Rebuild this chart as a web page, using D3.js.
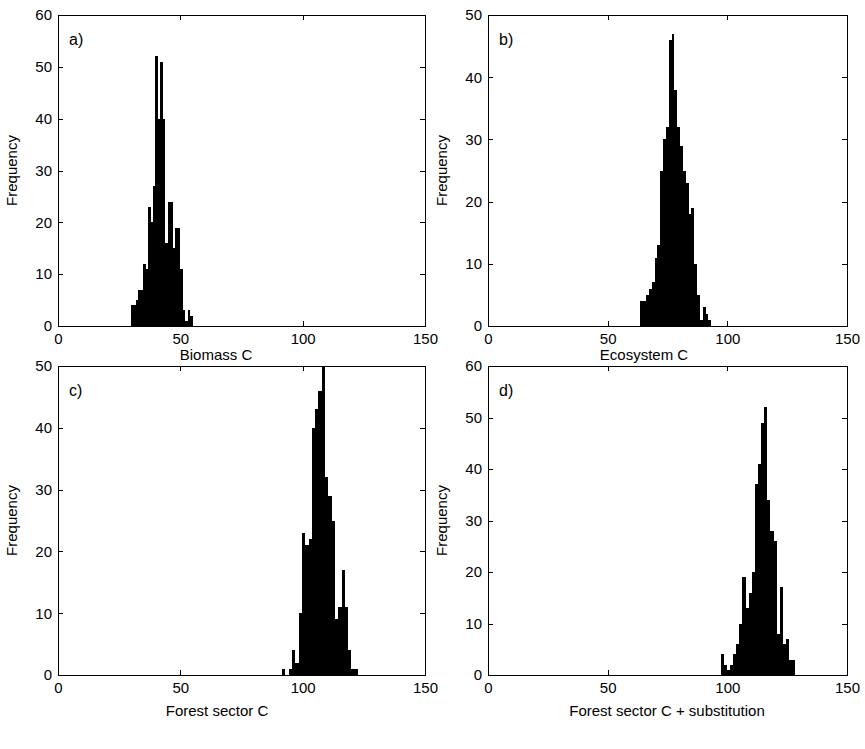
<!DOCTYPE html>
<html><head><meta charset="utf-8">
<script src="https://cdn.jsdelivr.net/npm/d3@7"></script>
<style>
body{margin:0;background:#fff}
text{font-family:"Liberation Sans",Arial,Helvetica,sans-serif;fill:#000}
</style>
</head><body>
<svg id="chart" width="865" height="749"></svg>
<script>
// ---- data ----
const xTickValues = [0, 50, 100, 150];
const panelLetters = ["a)", "b)", "c)", "d)"];
const xLabels = ["Biomass C", "Ecosystem C", "Forest sector C", "Forest sector C + substitution"];
const yLabel = "Frequency";
const yMaxes = [60, 50, 50, 60];
const binStarts = [29.7, 63.7, 91.6, 97.2];
const binWidths = [1.014, 1.184, 1.35, 1.3];
const countsA = [4,4,5,7,7,12,11,23,20,27,52,40,51,40,16,24,24,15,19,19,11,3,1,3,2];
const countsB = [4,4,5,6,7,11,13,25,30,32,46,47,38,32,29,25,23,18,19,10,5,1,3,2,1];
const countsC = [1,0,1,4,2,10,23,21,22,40,43,46,50,32,29,25,9,11,17,11,4,1,1];
const countsD = [4,2,1,2,4,6,10,19,13,16,20,37,41,49,52,34,28,26,8,17,6,7,3,3];
const allCounts = [countsA, countsB, countsC, countsD];

// ---- layout ----
const boxes = [
  {l:58,  r:425, t:15,  b:326, xlc:216, xly:360},
  {l:488, r:847, t:15,  b:326, xlc:644, xly:360},
  {l:58,  r:425, t:366, b:675, xlc:217, xly:716},
  {l:488, r:847, t:366, b:675, xlc:667, xly:716}
];

const svg = d3.select("#chart");
svg.append("rect").attr("width",865).attr("height",749).attr("fill","#fff");

boxes.forEach((bx, k) => {
  const x = d3.scaleLinear().domain([0,150]).range([bx.l, bx.r]);
  const y = d3.scaleLinear().domain([0, yMaxes[k]]).range([bx.b, bx.t]);
  const yTicks = d3.range(0, yMaxes[k] + 1, 10);
  const g = svg.append("g");

  // bars
  const counts = allCounts[k];
  const bins = counts.map((c, i) => ({x0: binStarts[k] + i*binWidths[k], x1: binStarts[k] + (i+1)*binWidths[k], c}));
  g.append("g").selectAll("rect").data(bins.filter(d => d.c > 0)).join("rect")
    .attr("x", d => x(d.x0))
    .attr("width", d => x(d.x1) - x(d.x0))
    .attr("y", d => y(d.c))
    .attr("height", d => y(0) - y(d.c))
    .attr("fill", "#000")
    .attr("shape-rendering", "crispEdges");

  const style = sel => {
    sel.selectAll("path,line").attr("stroke","#000").attr("shape-rendering","crispEdges");
    sel.selectAll("text").style("font-size","15px").attr("fill","#000").style("font-family",'"Liberation Sans",Arial,sans-serif');
  };
  g.append("g").attr("transform",`translate(0,${bx.b})`)
    .call(d3.axisBottom(x).tickValues(xTickValues).tickSizeInner(-5).tickSizeOuter(0).tickPadding(7).tickFormat(d3.format("d")))
    .call(style);
  g.append("g").attr("transform",`translate(0,${bx.t})`)
    .call(d3.axisTop(x).tickValues(xTickValues).tickSizeInner(-5).tickSizeOuter(0).tickFormat(""))
    .call(style);
  g.append("g").attr("transform",`translate(${bx.l},0)`)
    .call(d3.axisLeft(y).tickValues(yTicks).tickSizeInner(-5).tickSizeOuter(0).tickPadding(6).tickFormat(d3.format("d")))
    .call(style);
  g.append("g").attr("transform",`translate(${bx.r},0)`)
    .call(d3.axisRight(y).tickValues(yTicks).tickSizeInner(-5).tickSizeOuter(0).tickFormat(""))
    .call(style);

  g.append("text").attr("x", bx.l + 11).attr("y", bx.t + 30).style("font-size","16px").text(panelLetters[k]);
  g.append("text").attr("x", bx.xlc).attr("y", bx.xly).attr("text-anchor","middle").style("font-size","15px").text(xLabels[k]);
  g.append("text").attr("transform",`translate(${bx.l - 41},${(bx.t+bx.b)/2}) rotate(-90)`)
    .attr("text-anchor","middle").style("font-size","15px").text(yLabel);
});
</script>
</body></html>
